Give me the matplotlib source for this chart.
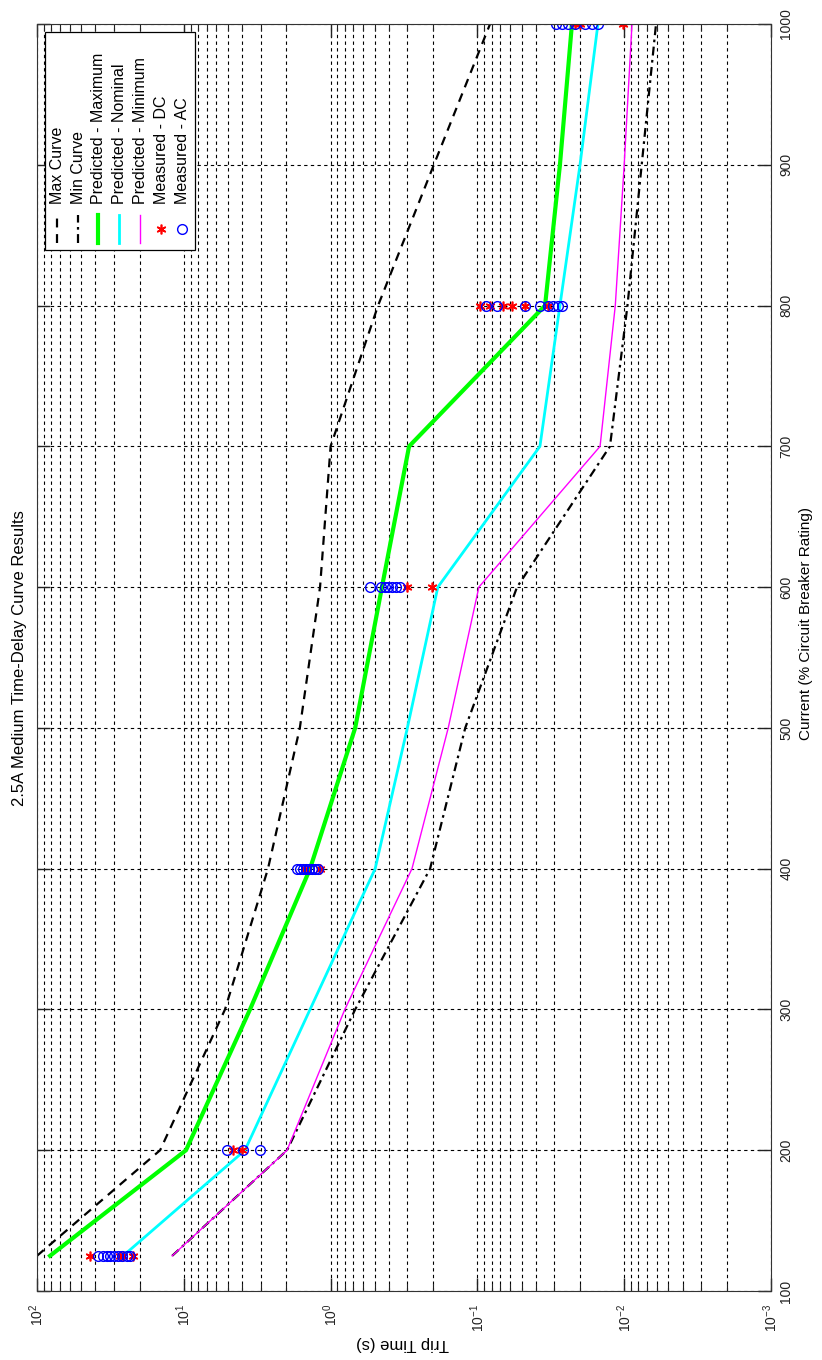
import matplotlib
matplotlib.use('Agg')
import matplotlib.pyplot as plt
from matplotlib.lines import Line2D
from matplotlib.patches import Rectangle
from matplotlib.transforms import Affine2D
from matplotlib.ticker import LogLocator, MultipleLocator

plt.rcParams['font.family'] = ['Liberation Sans', 'DejaVu Sans']

# current in % of breaker rating, trip time in seconds
current = [125, 200, 300, 400, 500, 600, 700, 800, 900, 1000]
max_curve = [100, 14.5, 5.24, 2.67, 1.62, 1.18, 1.0, 0.475, 0.198, 0.082]
min_curve = [12.0, 1.98, 0.68, 0.21, 0.121, 0.0537, 0.0125, 0.0095, 0.0076, 0.00607]
pred_max = [81.5, 9.66, 3.54, 1.38, 0.68, 0.447, 0.292, 0.0346, 0.0274, 0.0227]
pred_nom = [25.9, 3.83, 1.38, 0.497, 0.30, 0.186, 0.0375, 0.0274, 0.020, 0.0151]
pred_min = [12.0, 1.98, 0.80, 0.279, 0.158, 0.0977, 0.0146, 0.0115, 0.0100, 0.00885]

dc_current = [125]*4 + [200]*2 + [400]*2 + [600]*2 + [800]*6 + [1000]*3
dc_time = [43.5, 27.2, 26.0, 22.2,
           4.64, 4.02,
           1.49, 1.18,
           0.30, 0.204,
           0.096, 0.082, 0.067, 0.058, 0.0474, 0.033,
           0.0216, 0.020, 0.0102]

ac_current = [125]*9 + [200]*3 + [400]*8 + [600]*7 + [800]*8 + [1000]*7
ac_time = [38.4, 35.5, 33.4, 31.8, 29.9, 28.1, 26.4, 24.4, 23.3,
           5.08, 3.94, 3.03,
           1.69, 1.62, 1.54, 1.47, 1.40, 1.34, 1.28, 1.22,
           0.54, 0.454, 0.426, 0.406, 0.382, 0.358, 0.337,
           0.0874, 0.0735, 0.0474, 0.0375, 0.0330, 0.0305, 0.0282, 0.0265,
           0.0292, 0.0265, 0.0242, 0.0216, 0.0185, 0.0166, 0.0151]

legend_labels = ['Max Curve', 'Min Curve', 'Predicted - Maximum', 'Predicted - Nominal',
                 'Predicted - Minimum', 'Measured - DC', 'Measured - AC']

W, H = 822, 1360
fig = plt.figure(figsize=(W/100, H/100), dpi=100)
# page is turned a quarter turn: current runs upward, trip time runs leftward
ax = fig.add_axes([37/W, 1 - 1291/H, 734/W, 1267/H])

green = (0, 1, 0)
cyan = (0, 1, 1)
magenta = (1, 0, 1)
star = (6, 2, 0)

ax.plot(max_curve, current, color='black', ls=(0, (4, 3)), lw=1.6)
ax.plot(min_curve, current, color='black', ls=(0, (4, 2, 1.2, 2)), lw=1.6)
ax.plot(pred_max, current, color=green, lw=3)
ax.plot(pred_nom, current, color=cyan, lw=2)
ax.plot(pred_min, current, color=magenta, lw=1)
ax.plot(dc_time, dc_current, ls='none', marker=star, ms=7, mec='red', mew=1.2)
ax.plot(ac_time, ac_current, ls='none', marker='o', ms=7, mfc='none', mec='blue', mew=1)

ax.set_xscale('log')
ax.set_xlim(1e2, 1e-3)
ax.set_ylim(100, 1000)
ax.xaxis.set_major_locator(LogLocator(base=10, numticks=10))
ax.xaxis.set_minor_locator(LogLocator(base=10, subs=range(2, 10), numticks=20))
ax.yaxis.set_major_locator(MultipleLocator(100))

ax.grid(True, which='both', axis='x', color='black', ls=(0, (3, 3)), lw=0.8)
ax.grid(True, which='major', axis='y', color='black', ls=(0, (3, 3)), lw=0.8)
ax.set_axisbelow(True)

ax.tick_params(axis='both', which='both', direction='in', top=True, bottom=True,
               left=True, right=True, labelsize=10, colors='#222222')
ax.tick_params(axis='both', which='major', length=9.4, width=1)
ax.tick_params(axis='both', which='minor', length=5, width=0.8)
ax.tick_params(axis='y', labelleft=False, labelright=True, labelrotation=90, pad=6)
ax.tick_params(axis='x', labelrotation=90, pad=9)
for lab in ax.get_yticklabels():
    lab.set_va('center')
for sp in ax.spines.values():
    sp.set_color('#333333')

fig.text(806/W, 1 - 624/H, 'Current (% Circuit Breaker Rating)', fontsize=11,
         rotation=90, ha='center', va='center')
fig.text(402/W, 1 - 1343/H, 'Trip Time (s)', fontsize=12,
         rotation=180, ha='center', va='center')
fig.text(20/W, 1 - 658/H, '2.5A Medium Time-Delay Curve Results', fontsize=12,
         rotation=90, ha='center', va='center')

# turned legend, drawn in pixel coordinates of the page
px = Affine2D().scale(1/W, -1/H).translate(0, 1) + fig.transFigure
fig.add_artist(Rectangle((45, 32), 150, 218, transform=px, facecolor='white',
                         edgecolor='black', lw=0.9, zorder=5))
cols = [57, 78, 98, 119, 140, 161, 182]
styles = [dict(color='black', ls=(0, (4, 3)), lw=1.6),
          dict(color='black', ls=(0, (4, 2, 1.2, 2)), lw=1.6),
          dict(color=green, lw=3),
          dict(color=cyan, lw=2),
          dict(color=magenta, lw=1)]
for i, lx in enumerate(cols):
    if i < 5:
        fig.add_artist(Line2D([lx, lx], [243, 215], transform=px, zorder=6, **styles[i]))
    elif i == 5:
        fig.add_artist(Line2D([lx], [229], transform=px, ls='none', marker=star, ms=7,
                              mec='red', mew=1.2, zorder=6))
    else:
        fig.add_artist(Line2D([lx], [229], transform=px, ls='none', marker='o', ms=7,
                              mfc='none', mec='blue', mew=1, zorder=6))
    fig.text(lx, 204, legend_labels[i], transform=px, fontsize=11.5, rotation=90,
             ha='center', va='bottom', zorder=7)

fig.savefig('out.png', dpi=100, facecolor='white')
